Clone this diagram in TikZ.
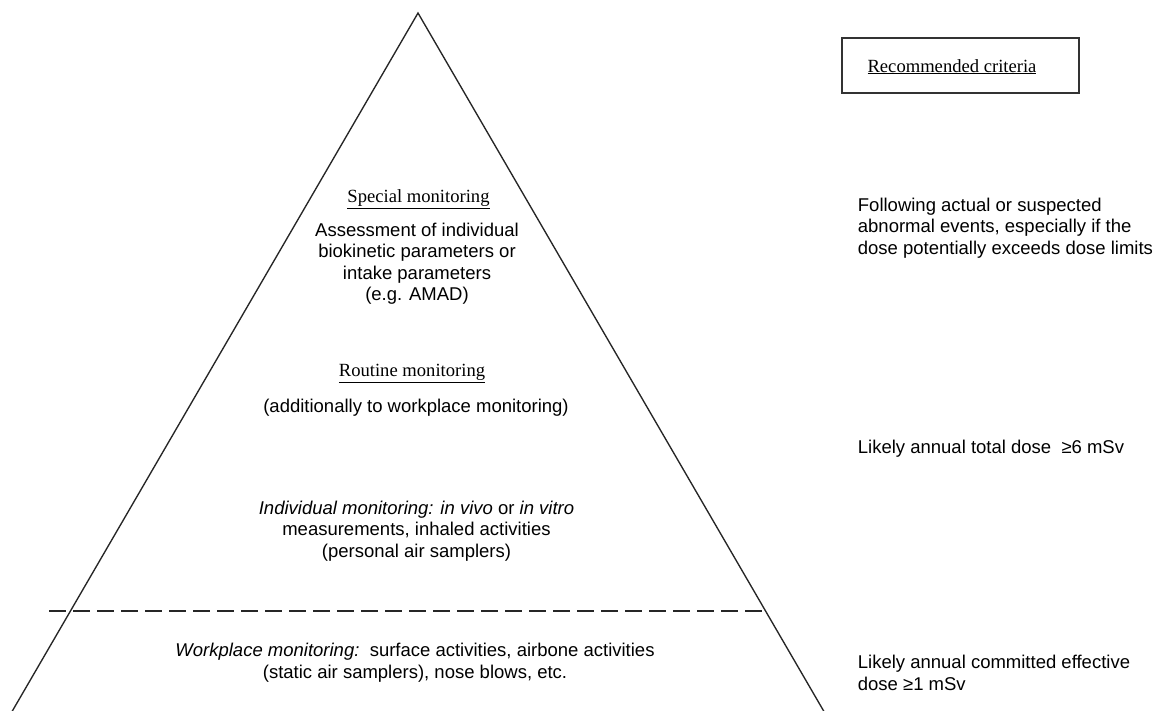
\documentclass[tikz,border=0pt]{standalone}
\usepackage{fontspec}
\setmainfont{Liberation Serif}
\setsansfont{Liberation Sans}
\begin{document}
\begin{tikzpicture}[x=1pt,y=-1pt,
  sanstxt/.style={font=\sffamily\fontsize{18.5}{21.5}\selectfont, inner sep=0pt},
  seriftxt/.style={font=\rmfamily\fontsize{18.6}{21.5}\selectfont, inner sep=0pt},
  edge/.style={line width=1.35pt, black!85},
  levelline/.style={line width=1.2pt, black!85, dash pattern=on 17pt off 7pt},
  critbox/.style={draw=black!80, line width=1.3pt, minimum width=237pt, minimum height=55pt, inner sep=0pt}]
\useasboundingbox (0,0) rectangle (1158,710);
\fill[white] (0,0) rectangle (1158,710);
\begin{scope}
\clip (0,0) rectangle (1158,710);
% pyramid outline
\coordinate (apex) at (418,13);
\coordinate (baseL) at (10,715);
\coordinate (baseR) at (826,715);
\draw[edge, line join=miter] (baseL) -- (apex) -- (baseR);
\end{scope}
% boundary between workplace and individual monitoring
\coordinate (dashL) at (49,611);
\coordinate (dashR) at (766,611);
\draw[levelline] (dashL) -- (dashR);

% criteria header
\node[critbox] (crit) at (960.5,65.5) {};
\node[seriftxt, anchor=base] (critlabel) at (952,72) {\underline{Recommended criteria}};

% pyramid texts (multi-line nodes are placed by the baseline of their last line)
\node[seriftxt, anchor=base] (special) at (418.5,202.3) {\underline{Special monitoring}};
\node[sanstxt, anchor=base, align=center] (specialtxt) at (417,300.5)
  {Assessment of individual\\ biokinetic parameters or\\ intake parameters\\ (e.g. AMAD)};
\node[seriftxt, anchor=base] (routine) at (412,376.7) {\underline{Routine monitoring}};
\node[sanstxt, anchor=base] (routinetxt) at (416,412) {(additionally to workplace monitoring)};
\node[sanstxt, anchor=base, align=center] (indiv) at (416.5,557.3)
  {\textit{Individual monitoring: in vivo} or \textit{in vitro}\\ measurements, inhaled activities\\ (personal air samplers)};
\node[sanstxt, anchor=base, align=center] (workplace) at (415,678.3)
  {\textit{Workplace monitoring:}\ \ surface activities, airbone activities\\ (static air samplers), nose blows, etc.};

% criteria texts
\node[sanstxt, anchor=base west, align=left] (critspecial) at (857.7,254)
  {Following actual or suspected\\ abnormal events, especially if the\\ dose potentially exceeds dose limits};
\node[sanstxt, anchor=base west] (critroutine) at (857.7,453.3) {Likely annual total dose \ ≥6 mSv};
\node[sanstxt, anchor=base west, align=left] (critwork) at (857.7,690)
  {Likely annual committed effective\\ dose ≥1 mSv};
\end{tikzpicture}
\end{document}
